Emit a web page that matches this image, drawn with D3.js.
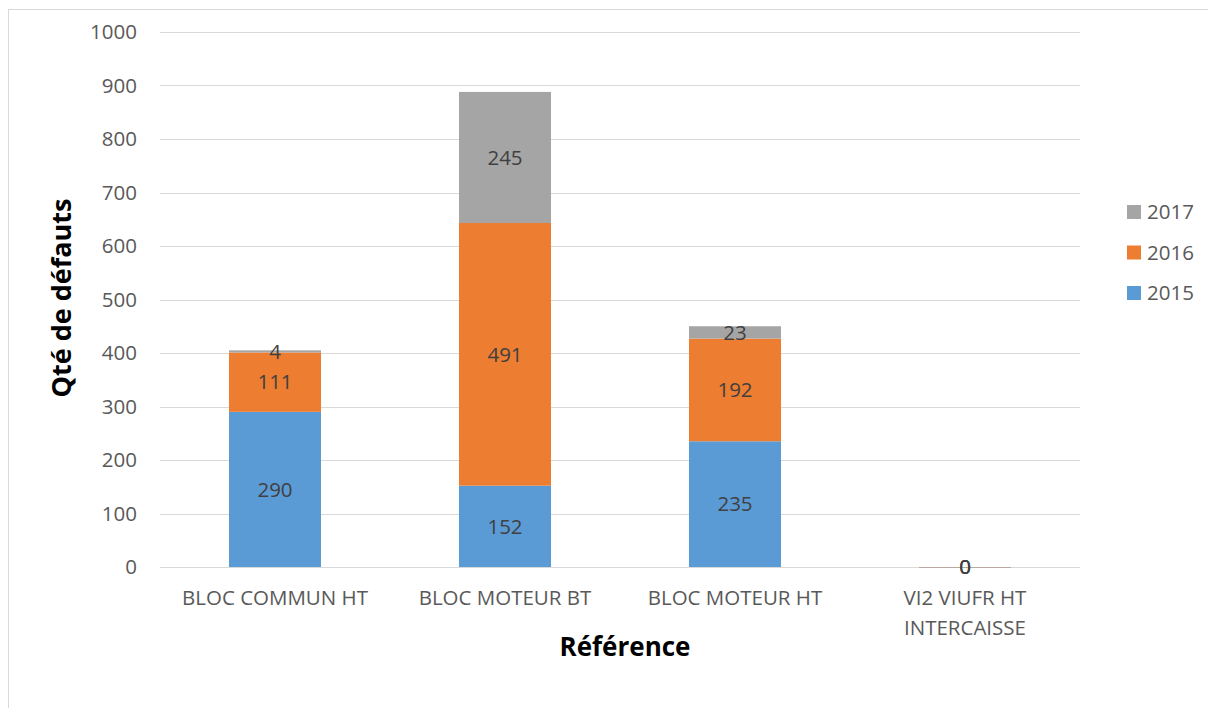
<!DOCTYPE html>
<html>
<head>
<meta charset="utf-8">
<script src="https://cdn.jsdelivr.net/npm/d3@7"></script>
<style>
  body { margin: 0; background: #fff; }
  text { font-family: "Open Sans", "Liberation Sans", sans-serif; }
</style>
</head>
<body>
<div id="chart-area"></div>
<script>
const categories = ["BLOC COMMUN HT", "BLOC MOTEUR BT", "BLOC MOTEUR HT", "VI2 VIUFR HT|INTERCAISSE"]
const years = ["2015", "2016", "2017"]
const values2015 = [290, 152, 235, 0]
const values2016 = [111, 491, 192, 0]
const values2017 = [4, 245, 23, 0]
const yTicks = [0, 100, 200, 300, 400, 500, 600, 700, 800, 900, 1000]
const colors = ["#5B9BD5", "#ED7D31", "#A5A5A5"]

const W = 1208, H = 708
const PLOT = { LEFT: 160, RIGHT: 1080, TOP: 32, BOTTOM: 567 }

const svg = d3.select("#chart-area").append("svg")
	.attr("width", W)
	.attr("height", H)

// chart frame
svg.append("rect")
	.attr("x", 8.5).attr("y", 9.5)
	.attr("width", W + 20).attr("height", H + 20)
	.attr("fill", "none")
	.attr("stroke", "#d9d9d9")

const x = d3.scaleBand()
	.domain(categories)
	.range([PLOT.LEFT, PLOT.RIGHT])

const y = d3.scaleLinear()
	.domain([0, 1000])
	.range([PLOT.BOTTOM, PLOT.TOP])

const g = svg.append("g")

// gridlines
g.selectAll(".grid").data(yTicks).enter().append("line")
	.attr("x1", PLOT.LEFT).attr("x2", PLOT.RIGHT)
	.attr("y1", d => Math.round(y(d)) + 0.5)
	.attr("y2", d => Math.round(y(d)) + 0.5)
	.attr("stroke", "#d9d9d9")
	.attr("stroke-width", 1)

// y tick labels
g.selectAll(".ytick").data(yTicks).enter().append("text")
	.attr("x", 137)
	.attr("y", d => y(d))
	.attr("dy", "0.35em")
	.attr("text-anchor", "end")
	.attr("font-size", "20.5px")
	.attr("fill", "#595959")
	.text(d => d)

// stacked data
const rows = categories.map((c, i) => ({ cat: c, "2015": values2015[i], "2016": values2016[i], "2017": values2017[i] }))
const series = d3.stack().keys(years)(rows)
const barW = x.bandwidth() * 0.4

series.forEach((s, si) => {
	g.selectAll(".bar" + si).data(s).enter().append("rect")
		.attr("x", d => x(d.data.cat) + (x.bandwidth() - barW) / 2)
		.attr("y", d => y(d[1]))
		.attr("width", barW)
		.attr("height", d => Math.max(y(d[0]) - y(d[1]), d[1] - d[0] === 0 ? 1 : 0))
		.attr("fill", colors[si])
		.attr("opacity", d => d[1] - d[0] === 0 ? 0.35 : 1)
})

// data labels
series.forEach((s, si) => {
	g.selectAll(".lab" + si).data(s).enter().append("text")
		.attr("x", d => x(d.data.cat) + x.bandwidth() / 2)
		.attr("y", d => y((d[0] + d[1]) / 2))
		.attr("dy", "0.35em")
		.attr("text-anchor", "middle")
		.attr("font-size", "20.5px")
		.attr("fill", "#404040")
		.text(d => d[1] - d[0])
})

// x category labels
categories.forEach(c => {
	const lines = c.split("|")
	const t = g.append("text")
		.attr("x", x(c) + x.bandwidth() / 2)
		.attr("y", 605)
		.attr("text-anchor", "middle")
		.attr("font-size", "20.5px")
		.attr("fill", "#595959")
	lines.forEach((l, i) => {
		t.append("tspan")
			.attr("x", x(c) + x.bandwidth() / 2)
			.attr("dy", i === 0 ? 0 : 30)
			.text(l)
	})
})

// axis titles
svg.append("text")
	.attr("x", 625).attr("y", 656)
	.attr("text-anchor", "middle")
	.attr("font-size", "26px")
	.attr("font-weight", "bold")
	.attr("fill", "#000")
	.text("Référence")

svg.append("text")
	.attr("transform", "translate(71, 298) rotate(-90)")
	.attr("text-anchor", "middle")
	.attr("font-size", "27px")
	.attr("font-weight", "bold")
	.attr("fill", "#000")
	.text("Qté de défauts")

// legend
const legendItems = years.slice().reverse()
const legend = svg.append("g")
legendItems.forEach((yr, i) => {
	const ly = 212 + i * 40.5
	legend.append("rect")
		.attr("x", 1127).attr("y", ly - 7)
		.attr("width", 14).attr("height", 14)
		.attr("fill", colors[years.indexOf(yr)])
	legend.append("text")
		.attr("x", 1147).attr("y", ly)
		.attr("dy", "0.35em")
		.attr("font-size", "20.5px")
		.attr("fill", "#595959")
		.text(yr)
})
</script>
</body>
</html>
